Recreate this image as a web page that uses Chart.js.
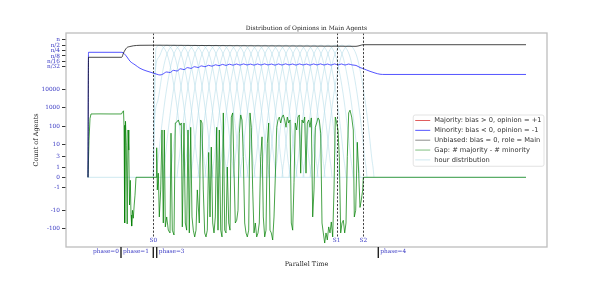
<!DOCTYPE html>
<html><head><meta charset="utf-8">
<script src="https://cdn.jsdelivr.net/npm/chart.js@4.4.0/dist/chart.umd.min.js"></script>
<style>html,body{margin:0;padding:0;background:#fff;}canvas{display:block;}</style>
</head><body>
<canvas id="c" width="598" height="281"></canvas>
<script>
// ---------------- DATA ----------------
const N = 5800000; // total agents n
const yTickValues = [-100, -10, -1, 0, 1, 3, 10, 100, 1000, 10000, N/32, N/16, N/8, N/4, N/2, N];
const yTickLabels = ['-100', '-10', '-1', '0', '1', '3', '10', '100', '1000', '10000', 'n/32', 'n/16', 'n/8', 'n/4', 'n/2', 'n'];

const majorityTime = [];
const majorityCount = [];

const minorityTime = [22, 22.5, 56, 58, 61, 64, 69, 74, 80, 87, 91, 94, 97, 100.5, 104, 107.5, 111, 114.5, 118, 121.5, 125, 128.5, 132, 135.5, 139, 142.5, 146, 149.5, 153, 156.5, 160, 163.5, 167, 170.5, 174, 177.5, 181, 184.5, 188, 191.5, 195, 198.5, 202, 205.5, 209, 212.5, 216, 219.5, 223, 226.5, 230, 233.5, 237, 240.5, 244, 247.5, 251, 254.5, 258, 261.5, 265, 268.5, 272, 275.5, 279, 282.5, 286, 290, 294, 297.3, 300.5, 304, 309, 314, 319, 460];
const minorityCount = [0, 1167000, 1167000, 1000000, 637000, 372000, 234000, 149000, 108000, 81400, 68900, 63000, 71600, 92600, 86800, 115000, 105000, 140000, 126000, 163000, 147000, 183000, 165000, 203000, 181000, 219000, 195000, 234000, 208000, 246000, 216000, 253000, 222000, 259000, 225000, 262000, 228000, 256000, 224000, 260000, 227000, 263000, 229000, 258000, 223000, 261000, 226000, 264000, 230000, 259000, 225000, 262000, 228000, 257000, 224000, 261000, 229000, 263000, 227000, 258000, 225000, 262000, 229000, 260000, 226000, 257000, 230000, 215000, 165000, 142000, 120000, 101000, 81400, 69500, 67500, 67500];

const unbiasedTime = [22, 22.5, 55.7, 57.5, 60.7, 64, 67.3, 74, 89, 134, 184, 234, 274, 290, 294, 297.3, 460];
const unbiasedCount = [0, 614000, 614000, 1067000, 2080000, 2460000, 2690000, 2870000, 2910000, 2800000, 2700000, 2620000, 2560000, 2520000, 2800000, 3100000, 3100000];

const gapTime = [22, 23, 24, 25, 34, 44, 55.5, 56.5, 57.5, 58, 58.7, 59.5, 60.3, 61.2, 62, 62.8, 63.5, 64.3, 65, 65.7, 66.5, 67.3, 68.2, 69, 70, 87, 90, 90.7, 91.3, 92.3, 93.3, 94.7, 96, 97.3, 98.3, 99.3, 100.7, 102.3, 104, 105, 106.3, 108, 109.3, 110.7, 112.3, 114, 115.3, 116.3, 118, 119.3, 120.7, 122, 123.3, 124.7, 126, 127.3, 128.7, 130, 131.3, 133.3, 134.7, 136, 137.3, 138.7, 140, 141.3, 142.7, 144, 145.3, 146.7, 148, 149.3, 150.7, 152, 153.3, 154.7, 156, 157.3, 158.7, 160, 161.3, 162.7, 164, 165.3, 166.7, 168, 169.3, 170.7, 172, 173.3, 174.7, 176, 177.3, 178.7, 180, 181.3, 182.7, 184, 185.3, 186.7, 188, 189.3, 190.7, 192, 193.3, 194.7, 196, 197.3, 198.7, 200, 201.3, 202.7, 204, 205.3, 206.7, 208, 209.3, 210.7, 212, 213.3, 214.7, 216, 217.3, 218.7, 220, 221.3, 222.7, 224, 225.3, 226.7, 228, 229.3, 230.7, 232, 233.3, 234.7, 236, 237.3, 238.7, 240, 241.3, 242.7, 244, 245.3, 246.7, 248, 249.3, 250.7, 252, 253.3, 254.7, 256, 257.3, 258.7, 260, 261.3, 262.7, 264, 265.3, 266.7, 268, 269.3, 270.7, 272, 273.3, 274.7, 276, 277.3, 278.7, 280, 281.3, 282.7, 284, 285.7, 287.3, 288.3, 289.7, 291.3, 292.7, 294, 295.3, 296.7, 297.3, 460];
const gapValue = [0, 16, 250, 440, 445, 440, 440, 560, 650, 110, -49, 180, 9, -55, 60, 5.6, -5.9, -0.3, -18, -72, -10, -27, -5.9, -2.2, 0, 0, 0, 7, -1.3, 0.4, -23, -1.3, 60, -49, 60, -80, -23, -120, -170, 40, -120, -220, 145, 160, 210, 110, 145, -80, 145, -49, -120, 60, -170, 85, -23, -120, -280, -120, -1.3, -49, 210, 145, -1.3, -170, -280, -120, 4.5, -23, 7.5, -49, -170, -23, 85, -120, 60, -120, -280, 500, -120, -170, 1, -49, -120, 300, 500, 0.7, -49, -35, -10, 40, 390, 210, 3, -49, -170, -280, -120, 500, 85, -1.3, -170, -49, -280, -170, -49, 3, 25, -23, -280, -120, 11, 145, -120, -170, -410, -23, 0, 85, 210, 300, 145, 300, 390, 210, 85, 300, 145, 210, -49, -120, -0.55, 145, 60, 300, 390, 0.4, 210, 145, 300, 0.4, 145, 210, 85, 270, -23, -1.3, 85, 145, 270, 210, 40, -49, -170, -600, -170, -410, -80, -170, -43, -280, -1.3, 300, 145, 60, 3, -170, -49, -35, -170, -49, 3, 500, 700, 300, 60, -23, -10, 12.5, 0.4, -7.5, -3.6, -1.3, 0, 0];

// hour distribution: peak times and one bump profile (offset in time, agent count)
const hourCenters = [94, 101, 108, 115, 122, 129, 136, 143, 150, 157, 164, 171, 178, 185, 192, 199, 206, 213, 220, 227, 234, 241, 248, 255, 262, 269, 276, 283];
const hourOffsets = [-25, -24, -23, -20, -16, -12, -8, -4, 0, 4, 8, 12, 16, 20, 23, 24, 25];
const hourCounts = [0, 1, 2.1, 46, 2550, 63000, 640000, 2030000, 2900000, 2030000, 640000, 63000, 2550, 46, 2.1, 1, 0];
const hourSpan = [22, 460];

const timeRange = [0, 481];
const stageTimes = [87.3, 270.5, 297.3];
const stageLabels = ['S0', 'S1', 'S2'];
const phaseBounds = [55, 87.3, 90.7, 312.3];
const phaseLabelTimes = [27, 57, 92.7, 314.3];
const phaseLabels = ['phase=0', 'phase=1', 'phase=3', 'phase=4'];

const legendLabels = ['Majority: bias > 0, opinion = +1', 'Minority: bias < 0, opinion = -1', 'Unbiased: bias = 0, role = Main', 'Gap: # majority - # minority', 'hour distribution'];

// ---------------- custom symmetric-log style axis mapping ----------------
const A = [-100, -10, -1, 0, 1, 3, 10, 100, 1000, 10000];
const P = [-51.4, -33, -10, 0, 10.3, 20.6, 33.3, 51.3, 70, 88];
function T(v) {
  if (v >= 10000) return 88 + 17.9 * Math.log10(v / 10000);
  if (v <= -100) return -51.4 - 18.4 * Math.log10(-v / 100);
  for (let i = 0; i < A.length - 1; i++) {
    const a = A[i], b = A[i + 1];
    if (v >= a && v <= b) {
      const pa = P[i], pb = P[i + 1];
      if (a === 0 || b === 0) return pa + (pb - pa) * (v - a) / (b - a);
      const la = Math.log10(Math.abs(a)), lb = Math.log10(Math.abs(b)), lv = Math.log10(Math.abs(v));
      return pa + (pb - pa) * (lv - la) / (lb - la);
    }
  }
  return 0;
}
const pts = (ts, vs) => ts.map((t, i) => ({ x: t, y: T(vs[i]) }));

const COL = {
  red: 'rgba(214,39,40,0.75)',
  blue: 'rgba(20,20,255,0.72)',
  black: 'rgba(0,0,0,0.72)',
  green: 'rgba(0,128,0,0.72)',
  hour: 'rgba(173,216,230,0.75)',
  tick: '#3a3ac4',
  text: '#222'
};

const datasets = [
  { label: legendLabels[2], data: pts(unbiasedTime, unbiasedCount), borderColor: COL.black, borderWidth: 1, cubicInterpolationMode: 'monotone' },
  { label: legendLabels[1], data: pts(minorityTime, minorityCount), borderColor: COL.blue, borderWidth: 1, cubicInterpolationMode: 'monotone' },
  { label: legendLabels[0], data: pts(majorityTime, majorityCount), borderColor: COL.red, borderWidth: 1 },
  { label: legendLabels[3], data: pts(gapTime, gapValue), borderColor: COL.green, borderWidth: 1 },
  { label: legendLabels[4], data: pts(hourSpan, [0, 0]), borderColor: COL.hour, borderWidth: 0.8 }
];
hourCenters.forEach(c => {
  let d = hourOffsets.map((o, i) => ({ x: c + o, y: T(hourCounts[i]) })).filter(p => p.x >= stageTimes[0]);
  if (d.length < hourOffsets.length) d.unshift({ x: stageTimes[0], y: 0 });
  datasets.push({ label: '_hour', data: d, borderColor: COL.hour, borderWidth: 0.7, cubicInterpolationMode: 'monotone' });
});
datasets.forEach(ds => { ds.pointRadius = 0; ds.fill = false; });

const SERIF = '"DejaVu Serif", serif';
const SANS = '"DejaVu Sans", sans-serif';

const overlay = {
  id: 'overlay',
  afterDatasetsDraw(chart) {
    const { ctx, chartArea: a, scales: { x } } = chart;
    ctx.save();
    // stage dashed lines
    ctx.strokeStyle = '#111'; ctx.lineWidth = 0.8; ctx.setLineDash([2.2, 1.6]);
    stageTimes.forEach(t => {
      const px = Math.round(x.getPixelForValue(t)) + 0.5;
      ctx.beginPath(); ctx.moveTo(px, a.top); ctx.lineTo(px, a.bottom - 10.5); ctx.stroke();
    });
    ctx.setLineDash([]);
    ctx.fillStyle = COL.tick; ctx.font = '5.8px ' + SERIF; ctx.textAlign = 'center'; ctx.textBaseline = 'middle';
    stageTimes.forEach((t, i) => ctx.fillText(stageLabels[i], x.getPixelForValue(t), a.bottom - 6.5));
    // frame
    ctx.strokeStyle = '#bdbdbd'; ctx.lineWidth = 1.3;
    ctx.strokeRect(a.left, a.top, a.right - a.left, a.bottom - a.top);
    // phase bars & labels
    ctx.strokeStyle = '#222'; ctx.lineWidth = 1.4;
    phaseBounds.forEach(t => {
      const px = x.getPixelForValue(t);
      ctx.beginPath(); ctx.moveTo(px, a.bottom); ctx.lineTo(px, a.bottom + 11); ctx.stroke();
    });
    ctx.fillStyle = COL.tick; ctx.textAlign = 'left'; ctx.font = '5.8px ' + SERIF;
    phaseLabelTimes.forEach((t, i) => ctx.fillText(phaseLabels[i], x.getPixelForValue(t), a.bottom + 4.5));
    // titles
    const cx = (a.left + a.right) / 2;
    ctx.fillStyle = COL.text; ctx.textAlign = 'center';
    ctx.font = '6px ' + SERIF;
    ctx.fillText('Distribution of Opinions in Main Agents', cx, a.top - 4.5);
    ctx.font = '6.5px ' + SERIF;
    ctx.fillText('Parallel Time', cx, a.bottom + 17.5);
    ctx.save();
    ctx.translate(36, (a.top + a.bottom) / 2);
    ctx.rotate(-Math.PI / 2);
    ctx.fillText('Count of Agents', 0, 0);
    ctx.restore();
    // legend
    const cols = [COL.red, COL.blue, 'rgba(0,0,0,0.45)', 'rgba(0,128,0,0.5)', 'rgba(173,216,230,0.6)'];
    ctx.font = '6.7px ' + SANS;
    const tw = Math.max(...legendLabels.map(s => ctx.measureText(s).width));
    const right = a.right - 3, top = a.top + 82, rowH = 9.85;
    const w = 2 + 15 + 4 + tw + 2.5, h = rowH * legendLabels.length + 2;
    const left = right - w;
    ctx.fillStyle = 'rgba(255,255,255,0.85)'; ctx.strokeStyle = '#dcdcdc'; ctx.lineWidth = 0.8;
    ctx.beginPath(); ctx.roundRect(left, top, w, h, 2); ctx.fill(); ctx.stroke();
    ctx.textAlign = 'left';
    legendLabels.forEach((s, i) => {
      const yy = top + 5.5 + i * rowH;
      ctx.strokeStyle = cols[i]; ctx.lineWidth = 1;
      ctx.beginPath(); ctx.moveTo(left + 2, yy); ctx.lineTo(left + 17, yy); ctx.stroke();
      ctx.fillStyle = '#333';
      ctx.fillText(s, left + 21, yy);
    });
    ctx.restore();
  }
};

new Chart(document.getElementById('c'), {
  type: 'line',
  data: { datasets },
  options: {
    responsive: false, animation: false, events: [],
    layout: { padding: { left: 0, right: 51, top: 33, bottom: 0 } },
    plugins: { legend: { display: false }, tooltip: { enabled: false }, title: { display: false } },
    scales: {
      x: {
        type: 'linear', min: timeRange[0], max: timeRange[1],
        ticks: { display: false }, grid: { display: false, drawTicks: false }, border: { display: false },
        afterFit(s) { s.height = 34; }
      },
      y: {
        type: 'linear', min: -69.7, max: 144.3,
        afterBuildTicks(s) { s.ticks = yTickValues.map(v => ({ value: T(v) })); },
        ticks: { autoSkip: false, callback: (v, i) => yTickLabels[i], color: COL.tick, font: { family: SERIF, size: 5.8 }, padding: 2 },
        grid: { display: true, drawOnChartArea: false, drawTicks: true, tickLength: 4, tickColor: '#000', tickWidth: 0.8 },
        border: { display: false },
        afterFit(s) { s.width = 66; }
      }
    }
  },
  plugins: [overlay]
});
</script>
</body></html>
